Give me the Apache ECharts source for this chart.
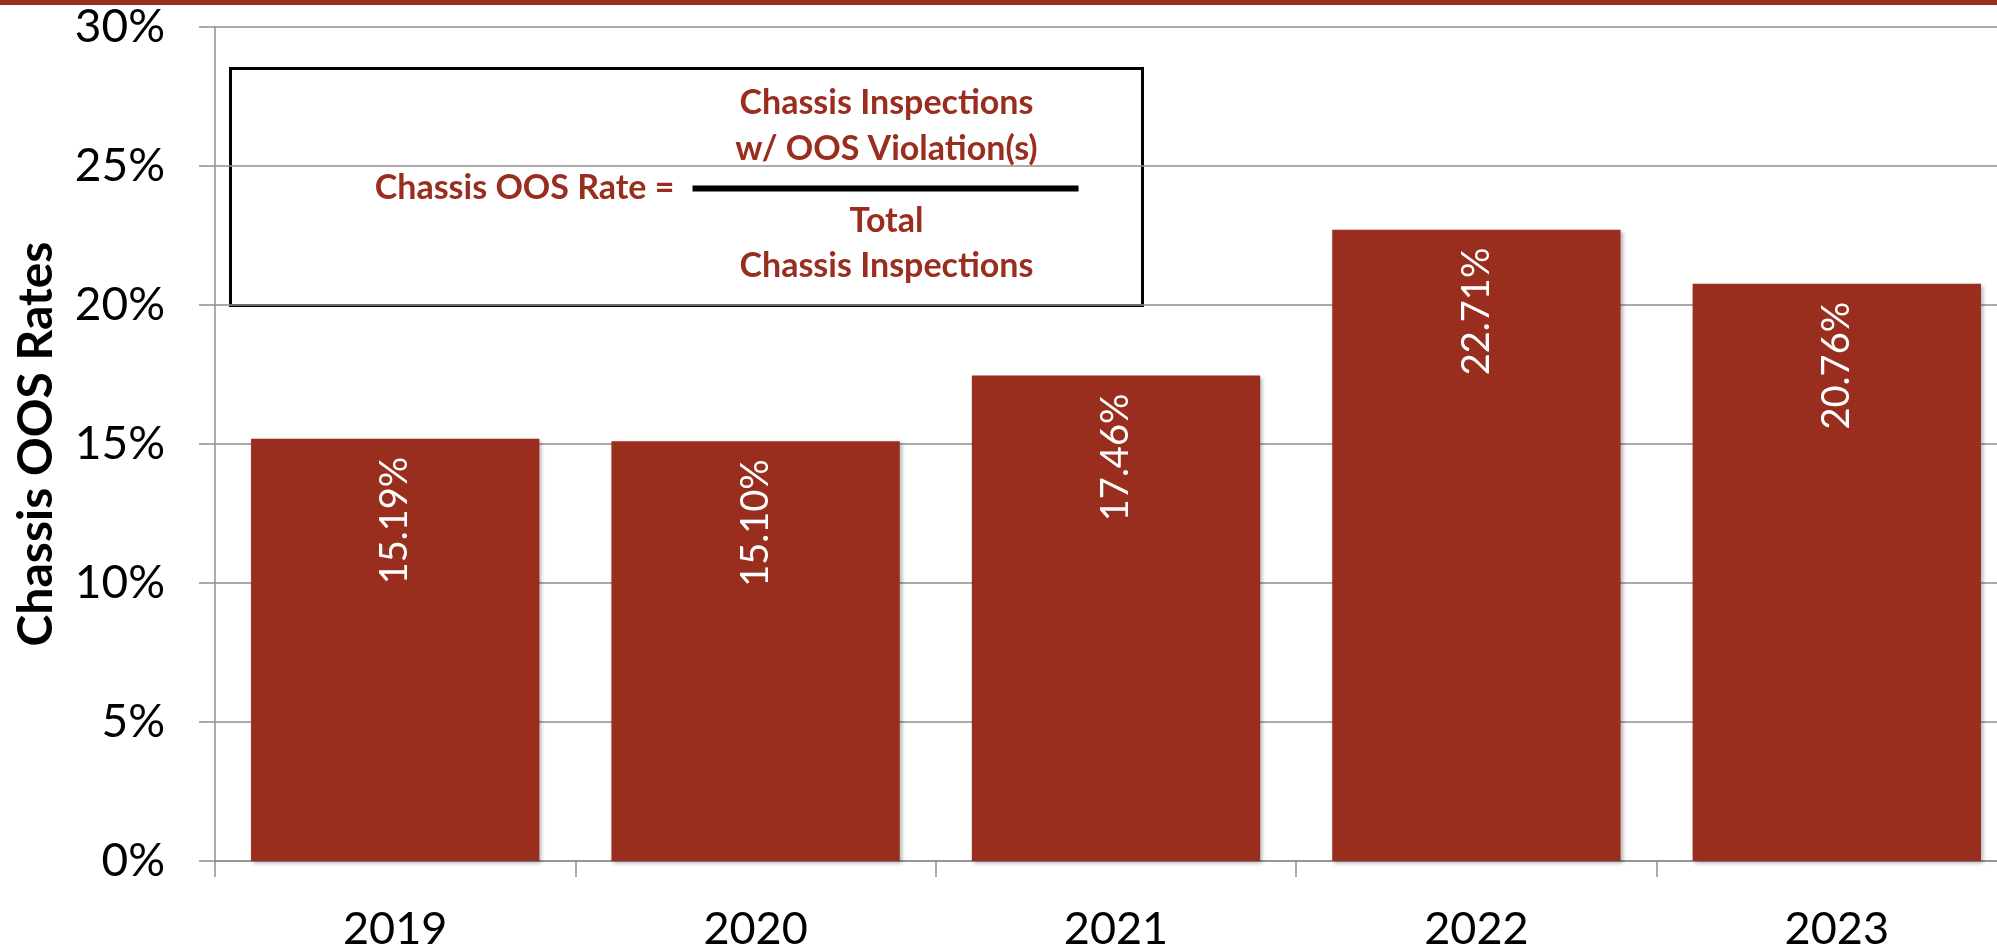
<!DOCTYPE html>
<html>
<head>
<meta charset="utf-8">
<script src="https://cdn.jsdelivr.net/npm/echarts@6/dist/echarts.min.js"></script>
<style>
  html, body { margin: 0; padding: 0; background: #fff; overflow: hidden; }
  #main { width: 1997px; height: 950px; }
</style>
</head>
<body>
<div id="main"></div>
<script>
var years = ["2019", "2020", "2021", "2022", "2023"];
var oosRates = [15.19, 15.10, 17.46, 22.71, 20.76];
var yTicks = [0, 5, 10, 15, 20, 25, 30];

var red = "#992e1f";
var gray = "#8f8f8f";
var font = "Lato";

var myChart = echarts.init(document.getElementById("main"));

var option = {
  animation: false,
  backgroundColor: "#ffffff",
  grid: {
    left: 215,
    top: 27,
    right: -20, // plot runs a little past the right edge, as in the original
    bottom: 89,
    outerBoundsMode: "none",
  },
  xAxis: {
    type: "category",
    data: years,
    axisLine: { lineStyle: { color: gray, width: 1.5 } },
    axisTick: { show: true, length: 16, lineStyle: { color: gray, width: 1.5 } },
    axisLabel: { color: "#000", fontFamily: font, fontSize: 45, margin: 46 },
  },
  yAxis: {
    type: "value",
    min: yTicks[0],
    max: yTicks[yTicks.length - 1],
    interval: 5,
    name: "Chassis OOS Rates",
    nameLocation: "middle",
    nameGap: 154,
    nameTextStyle: { color: "#000", fontFamily: font, fontSize: 48, fontWeight: "bold" },
    axisLine: { show: true, lineStyle: { color: gray, width: 1.5 } },
    axisTick: { show: true, length: 16, lineStyle: { color: gray, width: 1.5 } },
    splitLine: { show: true, lineStyle: { color: gray, width: 1.5 } },
    axisLabel: {
      color: "#000",
      fontFamily: font,
      fontSize: 46,
      margin: 50,
      formatter: "{value}%",
    },
  },
  series: [
    {
      type: "bar",
      data: oosRates,
      barCategoryGap: "20%",
      itemStyle: {
        color: red,
        shadowColor: "rgba(0,0,0,0.3)",
        shadowBlur: 4,
        shadowOffsetX: 2,
        shadowOffsetY: 2,
      },
      label: {
        show: true,
        position: "insideTop",
        rotate: 90,
        align: "right",
        verticalAlign: "middle",
        distance: 18,
        color: "#fff",
        fontFamily: font,
        fontSize: 38,
        formatter: function (p) {
          return p.value.toFixed(2) + "%";
        },
      },
    },
  ],
  graphic: [
    // red band along the top edge
    { type: "rect", left: 0, top: 0, shape: { width: 1997, height: 5 }, style: { fill: red } },
    // formula box
    {
      type: "group",
      left: 229,
      top: 67,
      children: [
        {
          type: "rect",
          shape: { x: 0, y: 0, width: 912, height: 237 },
          style: { fill: "#fff", stroke: "#000", lineWidth: 3 },
        },
        {
          type: "text",
          x: 444, y: 120,
          style: { text: "Chassis OOS Rate =", fill: red, font: "bold 34px Lato", align: "right", verticalAlign: "middle" },
        },
        {
          type: "line",
          shape: { x1: 462, y1: 120, x2: 848, y2: 120 },
          style: { stroke: "#000", lineWidth: 6 },
        },
        {
          type: "text",
          x: 656, y: 35,
          style: { text: "Chassis Inspections", fill: red, font: "bold 34px Lato", align: "center", verticalAlign: "middle" },
        },
        {
          type: "text",
          x: 656, y: 81,
          style: { text: "w/ OOS Violation(s)", fill: red, font: "bold 34px Lato", align: "center", verticalAlign: "middle" },
        },
        {
          type: "text",
          x: 656, y: 153,
          style: { text: "Total", fill: red, font: "bold 34px Lato", align: "center", verticalAlign: "middle" },
        },
        {
          type: "text",
          x: 656, y: 198,
          style: { text: "Chassis Inspections", fill: red, font: "bold 34px Lato", align: "center", verticalAlign: "middle" },
        },
      ],
    },
  ],
};

myChart.setOption(option);
</script>
</body>
</html>
